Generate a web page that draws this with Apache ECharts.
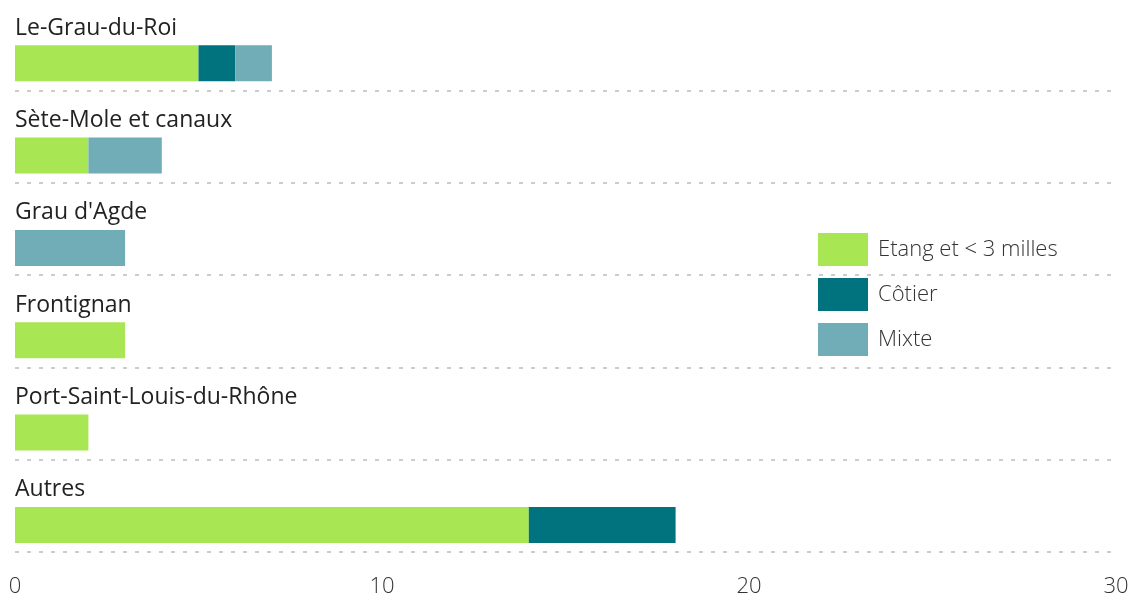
<!DOCTYPE html>
<html><head><meta charset="utf-8">
<script src="https://cdn.jsdelivr.net/npm/echarts@6/dist/echarts.min.js"></script>
<style>html,body{margin:0;padding:0;background:#fff}#c{width:1130px;height:599px}</style>
</head><body><div id="c"></div>
<script>
const categories = ["Le-Grau-du-Roi","Sète-Mole et canaux","Grau d'Agde","Frontignan","Port-Saint-Louis-du-Rhône","Autres"];
const etang = [5, 2, 0, 3, 2, 14];
const cotier = [1, 0, 0, 0, 0, 4];
const mixte = [1, 2, 3, 0, 0, 0];
const spacer = [0, 0, 0, 0, 0, 0];
const xTicks = [0, 10, 20, 30];
const FONT = '"Open Sans", Lato, sans-serif';

const chart = echarts.init(document.getElementById('c'));
const real = (name, data, color) => ({
  name, type: 'bar', stack: 'real', data, barWidth: 36, barGap: '6%',
  itemStyle: { color }, emphasis: { disabled: true }, silent: true
});
chart.setOption({
  animation: false,
  textStyle: { fontFamily: FONT },
  grid: { left: 15, right: 14, top: -2, bottom: 47, containLabel: false, outerBoundsMode: 'none' },
  legend: {
    orient: 'vertical', left: 818, top: 233, padding: 0, itemWidth: 50, itemHeight: 33, itemGap: 12,
    icon: 'rect', selectedMode: false,
    data: ['Etang et < 3 milles', 'Côtier', 'Mixte'],
    textStyle: { fontSize: 22, fontWeight: 300, color: '#333', fontFamily: FONT, padding: [0, 0, 0, 5] }
  },
  xAxis: {
    type: 'value', min: xTicks[0], max: xTicks[xTicks.length - 1], interval: 10,
    axisLine: { show: false }, axisTick: { show: false }, splitLine: { show: false },
    axisLabel: { fontSize: 22, fontWeight: 300, color: '#333', margin: 24, fontFamily: FONT }
  },
  yAxis: {
    type: 'category', data: categories, inverse: true,
    axisLine: { show: false }, axisTick: { show: false },
    splitLine: { show: true, lineStyle: { color: '#cccccc', width: 2, type: [4, 8] } },
    axisLabel: {
      inside: true, margin: 0, align: 'left', verticalAlign: 'bottom', lineHeight: 32,
      fontSize: 23, color: '#222', fontFamily: FONT
    }
  },
  series: [
    { name: 'spacer', type: 'bar', stack: 'spacer', data: spacer, barWidth: 36, barGap: '6%',
      itemStyle: { color: 'transparent' }, silent: true },
    real('Etang et < 3 milles', etang, '#a8e653'),
    real('Côtier', cotier, '#00737f'),
    real('Mixte', mixte, '#70adb6')
  ]
});
</script></body></html>
